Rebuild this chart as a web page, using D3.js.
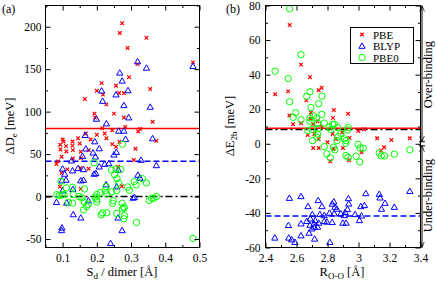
<!DOCTYPE html>
<html><head><meta charset="utf-8">
<script src="https://cdn.jsdelivr.net/npm/d3@7"></script>
<style>
html,body{margin:0;padding:0;background:#fff;}
svg{display:block;font-family:"Liberation Serif",serif;}
svg text{font-family:"Liberation Serif",serif !important;fill:#000;}
</style></head>
<body><svg id="c" width="436" height="283"></svg>
<script>
// ---------- Panel (a) data: S_d / dimer vs ΔD_e ----------
const aPBE_x = [0.274,0.267,0.345,0.29,0.319,0.481,0.294,0.214,0.256,0.2,0.218,0.265,0.279,0.356,0.165,0.228,0.25,0.193,0.195,0.279,0.363,0.216,0.245,0.283,0.327,0.321,0.168,0.223,0.228,0.145,0.182,0.2,0.1,0.103,0.129,0.129,0.11,0.093,0.094,0.15,0.245,0.256,0.266,0.374,0.313,0.111,0.13,0.153,0.176,0.097,0.13,0.154,0.086,0.082,0.308,0.114,0.152,0.176,0.262,0.097,0.092,0.153,0.273];
const aPBE_y = [204,192.6,187,175,156,158,140.6,133.6,130.5,124.6,120,121.9,121.9,126.6,114.8,108.6,97.7,97.7,93,93,88,80.5,78,82,79.7,76.6,74.2,74.2,68.7,68.7,67.2,72.7,67.2,64.8,64.8,60,59.4,61,55.5,62.5,61.7,58.6,64.5,65.6,56.3,53.1,54.7,52.7,54.7,46.9,44.9,45.3,41.4,38.3,43,32,33.6,32.8,35.2,27.7,11.7,9,12.1];
const aBLYP_x = [0.319,0.481,0.345,0.267,0.274,0.214,0.256,0.291,0.217,0.279,0.356,0.199,0.293,0.228,0.264,0.279,0.166,0.284,0.363,0.194,0.168,0.207,0.189,0.257,0.25,0.196,0.158,0.126,0.223,0.235,0.207,0.329,0.374,0.1,0.129,0.145,0.161,0.192,0.197,0.106,0.263,0.098,0.11,0.153,0.161,0.32,0.326,0.227,0.258,0.13,0.1,0.31,0.306,0.082,0.112,0.175,0.131,0.153,0.262,0.098,0.097,0.274,0.24];
const aBLYP_y = [159,153.5,151.5,145.7,136.3,124.6,120,125,112.5,107.4,105.5,91.4,93,86,77.3,77.3,72.3,67.6,68.4,64.8,56.3,56.6,51.6,52.3,49.2,46.9,47.6,42.2,38.3,39,35.2,43,36.7,32.8,30.5,33.2,32,26.6,27.3,26.6,31.2,18.8,19.5,18.8,19.5,25.4,21.9,14,11.7,8.6,7,-0.8,-1.6,-6.6,-7.4,-4.7,-21.1,-25,-25,-36.7,-39.8,-39.8,-55];
const aPBE0_x = [0.275,0.192,0.256,0.243,0.27,0.252,0.259,0.264,0.309,0.315,0.333,0.345,0.29,0.295,0.095,0.111,0.129,0.164,0.227,0.225,0.258,0.083,0.09,0.098,0.104,0.131,0.148,0.156,0.2,0.21,0.229,0.243,0.117,0.129,0.195,0.2,0.163,0.175,0.2,0.248,0.246,0.274,0.279,0.275,0.28,0.17,0.161,0.36,0.366,0.374,0.353,0.217,0.229,0.213,0.258,0.281,0.279,0.316,0.481];
const aPBE0_y = [61.7,39.8,32.4,31.2,32,25.8,21.1,16,17.6,13.7,21.1,16,11.3,7.4,18,10.2,11,9,11.7,7,7,2.3,1.2,2,2.3,2.3,0,-1.6,2.3,4.7,3.1,5.5,-6.6,-7.8,-0.8,-3.1,-6.3,-9,-6.3,-5,-8.2,-7.8,-12.5,-14.8,-13.3,-11.7,-15.6,-2,-2,0,-4.7,-19.1,-19.1,-21.5,-19.9,-22.7,-26.2,-30.5,-49.2];
const aMeanLines = [{v:80, c:"#ff0000", dash:null}, {v:41.5, c:"#0000ff", dash:"6,3"}, {v:0, c:"#000000", dash:"7,3,2,3"}];
const aXTicks = [0.1,0.2,0.3,0.4,0.5], aXMinor = [0.05,0.15,0.25,0.35,0.45];
const aYTicks = [-50,0,50,100,150,200], aYMinor = [-25,25,75,125,175,225];

// ---------- Panel (b) data: R_O-O vs ΔE_2b ----------
const bPBE_x = [2.556,2.629,2.687,2.462,2.546,2.663,2.743,2.762,2.554,2.693,2.841,2.933,2.629,2.578,2.835,2.691,2.708,2.736,2.762,2.672,2.999,3.035,3.12,3.212,3.331,2.715,2.743,2.8,2.708,2.743,2.833,2.854,2.895,2.942,2.838,2.9,2.818,2.94,3.02,3.165,3.145];
const bPBE_y = [68.7,45.8,38.5,28.7,30.3,25.1,31,32.4,16.4,18,19.5,17.4,11.9,11.3,15,14.5,11.4,13,9.9,5.1,7.4,8.4,3.2,2.2,3.2,5.7,2.8,0.9,-2.4,-2.4,5.7,2.8,6.6,3.4,-3,-2.4,-10.1,-9.5,-4.9,-2,-3.9];
const bBLYP_x = [2.554,2.629,3.047,3.331,2.74,2.841,2.83,2.935,2.937,3.134,3.139,3.171,3.231,3.148,3.038,3.015,2.674,2.764,2.848,2.86,2.929,2.914,2.886,2.813,2.751,2.702,2.978,3.019,2.779,2.843,2.908,2.689,2.721,2.666,2.629,2.713,2.743,2.779,2.796,2.83,2.899,2.92,3.006,2.687,2.715,2.7,2.548,2.736,2.681,2.46,2.55,2.569,2.59,2.629,2.717,2.815];
const bBLYP_y = [-31.4,-30.4,-28.7,-27.4,-32.7,-33.5,-34.8,-31.6,-34.7,-29.1,-31.2,-34.3,-36.6,-37.7,-35.6,-36.2,-36.2,-36.2,-36.6,-37.7,-37.9,-39.6,-40.4,-40,-40.8,-40.8,-40.8,-41.6,-41.4,-40.4,-41.4,-43.3,-44.3,-44.8,-46.2,-46.2,-45.8,-44.8,-45.2,-45.4,-45.8,-45.8,-44.3,-47,-48.1,-49.1,-47.1,-48.1,-51.6,-54.4,-54.4,-55.4,-56.9,-53.1,-55,-56.9];
const bPBE0_x = [2.556,2.629,2.462,2.546,2.556,2.687,2.666,2.764,2.743,2.693,2.595,2.578,2.629,2.687,2.71,2.73,2.764,2.687,2.736,2.779,2.833,2.844,2.811,2.865,2.934,2.672,2.7,2.736,2.736,2.822,2.886,2.869,2.929,2.732,2.704,2.861,2.91,2.92,2.779,2.838,2.847,2.918,2.796,2.818,2.997,3.01,3.03,2.918,2.933,2.985,3.008,3.134,3.147,3.168,3.231,3.331];
const bPBE0_y = [78.1,51.6,42,37.8,24.3,30.1,27.4,27.6,23.2,21,18,15.3,13.9,14.9,16.2,14.9,17,13,12,12,11.1,11.4,9.7,9.5,9.5,7.6,8.4,8.6,5.7,8.2,6,4.1,8,3.8,1.8,1.8,2.8,1.8,-1.6,-2,-3.5,0.3,-5.8,-8.1,-0.3,-2.4,-2.6,-6.8,-7.8,-7.2,-10.5,-5.3,-7,-7,-6,-3.5];
const bMeanLines = [{v:8.3, c:"#000000", dash:"7,3,2,3"}, {v:9, c:"#ff0000", dash:null}, {v:-41.8, c:"#0000ff", dash:"6,3"}];
const bXTicks = [2.4,2.6,2.8,3.0,3.2,3.4], bXMinor = [2.5,2.7,2.9,3.1,3.3];
const bYTicks = [-60,-40,-20,0,20,40,60,80], bYMinor = [-50,-30,-10,10,30,50,70];
const legendLabels = ["PBE","BLYP","PBE0"];

const colors = {PBE:"#ff0000", BLYP:"#0000ff", PBE0:"#00ff00"};
const FONT = "'Liberation Serif', serif";
const svg = d3.select("#c");
const fmt = v => String(+v.toFixed(2)).replace("\u2212","-");

function marker(g, type, cx, cy) {
  if (type === "PBE") {
    g.append("path").attr("d", d3.symbol(d3.symbolTimes, 10)())
      .attr("transform", `translate(${cx},${cy})`).attr("fill","none")
      .attr("stroke", colors.PBE).attr("stroke-width", 1.2);
  } else if (type === "BLYP") {
    g.append("path").attr("d", d3.symbol(d3.symbolTriangle, 17)())
      .attr("transform", `translate(${cx},${cy+0.5})`).attr("fill","none")
      .attr("stroke", colors.BLYP).attr("stroke-width", 1);
  } else {
    g.append("circle").attr("cx", cx).attr("cy", cy).attr("r", 3.2)
      .attr("fill","none").attr("stroke", colors.PBE0).attr("stroke-width", 1);
  }
}

function panel(opt) {
  const {x, y} = opt;
  const g = svg.append("g");
  const [x0, x1] = x.range(), [y0, y1] = y.range();
  const clipId = "clip" + opt.id;
  svg.append("clipPath").attr("id", clipId).append("rect")
    .attr("x", x0).attr("y", y1).attr("width", x1 - x0).attr("height", y0 - y1);
  const plot = g.append("g").attr("clip-path", `url(#${clipId})`);
  opt.lines.forEach(l => {
    plot.append("line").attr("x1", x0).attr("x2", x1).attr("y1", y(l.v)).attr("y2", y(l.v))
      .attr("stroke", l.c).attr("stroke-width", 1.5).attr("stroke-dasharray", l.dash);
  });
  opt.series.forEach(s => {
    s.xs.forEach((xv, i) => marker(plot, s.type, x(xv), y(s.ys[i])));
  });
  const tickStyle = sel => {
    sel.attr("font-family", FONT).attr("font-size", 11.5);
    sel.select(".domain").remove();
    sel.selectAll("line").attr("stroke","#000").attr("stroke-width",1);
    sel.selectAll("text").style("font-family", FONT).style("font-size","11.5px")
      .each(function(){ const t=d3.select(this); t.text(t.text().replace("\u2212","-")); });
  };
  g.append("g").attr("transform", `translate(0,${y0})`)
    .call(d3.axisBottom(x).tickValues(opt.xt).tickSize(-5).tickPadding(6).tickFormat(fmt)).call(tickStyle);
  g.append("g").attr("transform", `translate(0,${y0})`)
    .call(d3.axisBottom(x).tickValues(opt.xm).tickSize(-2.5).tickFormat("")).call(tickStyle);
  g.append("g").attr("transform", `translate(0,${y1})`)
    .call(d3.axisTop(x).tickValues(opt.xt).tickSize(-5).tickFormat("")).call(tickStyle);
  g.append("g").attr("transform", `translate(0,${y1})`)
    .call(d3.axisTop(x).tickValues(opt.xm).tickSize(-2.5).tickFormat("")).call(tickStyle);
  g.append("g").attr("transform", `translate(${x0},0)`)
    .call(d3.axisLeft(y).tickValues(opt.yt).tickSize(-5).tickPadding(opt.ypad).tickFormat(fmt)).call(tickStyle);
  g.append("g").attr("transform", `translate(${x0},0)`)
    .call(d3.axisLeft(y).tickValues(opt.ym).tickSize(-2.5).tickFormat("")).call(tickStyle);
  g.append("g").attr("transform", `translate(${x1},0)`)
    .call(d3.axisRight(y).tickValues(opt.yt).tickSize(-5).tickFormat("")).call(tickStyle);
  g.append("g").attr("transform", `translate(${x1},0)`)
    .call(d3.axisRight(y).tickValues(opt.ym).tickSize(-2.5).tickFormat("")).call(tickStyle);
  g.append("rect").attr("x", x0).attr("y", y1).attr("width", x1 - x0).attr("height", y0 - y1)
    .attr("fill","none").attr("stroke","#000").attr("stroke-width",1);
  return g;
}

const xA = d3.scaleLinear().domain([0.05, 0.5]).range([45.5, 199.5]);
const yA = d3.scaleLinear().domain([-60, 225]).range([247.5, 5.5]);
const xB = d3.scaleLinear().domain([2.4, 3.4]).range([265.5, 420.5]);
const yB = d3.scaleLinear().domain([-60, 80]).range([247.5, 5.5]);

panel({id:"a", x:xA, y:yA, xt:aXTicks, xm:aXMinor, yt:aYTicks, ym:aYMinor, ypad:4,
  lines:aMeanLines,
  series:[{type:"PBE", xs:aPBE_x, ys:aPBE_y},{type:"BLYP", xs:aBLYP_x, ys:aBLYP_y},{type:"PBE0", xs:aPBE0_x, ys:aPBE0_y}]});
panel({id:"b", x:xB, y:yB, xt:bXTicks, xm:bXMinor, yt:bYTicks, ym:bYMinor, ypad:5,
  lines:bMeanLines,
  series:[{type:"PBE", xs:bPBE_x, ys:bPBE_y},{type:"BLYP", xs:bBLYP_x, ys:bBLYP_y},{type:"PBE0", xs:bPBE0_x, ys:bPBE0_y}]});

function txt(sel){ return sel.style("font-family", FONT); }
txt(svg.append("text")).attr("x", 2).attr("y", 13).style("font-size","12px").text("(a)");
txt(svg.append("text")).attr("x", 226).attr("y", 13).style("font-size","12px").text("(b)");

function title(tr, main, sub, rest) {
  const t = txt(svg.append("text")).attr("transform", tr).attr("text-anchor","middle").style("font-size","12.5px");
  t.append("tspan").text(main);
  t.append("tspan").attr("dy", 3).style("font-size","9px").text(sub);
  t.append("tspan").attr("dy", -3).text(rest);
}
title("translate(122,276)", "S", "d", " / dimer [Å]");
title("translate(342,276)", "R", "O-O", " [Å]");
title("translate(14,126) rotate(-90)", "ΔD", "e", " [meV]");
title("translate(234,126) rotate(-90)", "ΔE", "2b", " [meV]");

// legend in (b)
const lg = svg.append("g");
lg.append("rect").attr("x", 350.5).attr("y", 27.5).attr("width", 63).attr("height", 36)
  .attr("fill","#fff").attr("stroke","#000").attr("stroke-width",1);
legendLabels.forEach((k, i) => {
  const yy = 34.5 + i * 11.5;
  marker(lg, k, 362, yy);
  txt(lg.append("text")).attr("x", 373).attr("y", yy + 4).style("font-size","11px").text(k);
});

// over/under-binding arrows
const defs = svg.append("defs");
defs.append("marker").attr("id","ah").attr("viewBox","0 0 10 10").attr("refX",10).attr("refY",5)
  .attr("markerWidth",6).attr("markerHeight",6).attr("orient","auto-start-reverse").attr("markerUnits","userSpaceOnUse")
  .append("path").attr("d","M0,1 L10,5 L0,9").attr("fill","none").attr("stroke","#000").attr("stroke-width",1.2);
const ax = 422;
const zeroY = yB(0);
svg.append("line").attr("x1", ax).attr("x2", ax).attr("y1", yB(80)).attr("y2", zeroY - 2)
  .attr("stroke","#000").attr("stroke-width",1).attr("marker-start","url(#ah)").attr("marker-end","url(#ah)");
svg.append("line").attr("x1", ax).attr("x2", ax).attr("y1", zeroY + 2).attr("y2", yB(-60))
  .attr("stroke","#000").attr("stroke-width",1).attr("marker-start","url(#ah)").attr("marker-end","url(#ah)");
svg.append("line").attr("x1", ax-3).attr("x2", ax+3).attr("y1", zeroY - 2).attr("y2", zeroY - 2).attr("stroke","#000");
svg.append("line").attr("x1", ax-3).attr("x2", ax+3).attr("y1", zeroY + 2).attr("y2", zeroY + 2).attr("stroke","#000");
txt(svg.append("text")).attr("transform", `translate(432,${(yB(80)+zeroY)/2}) rotate(-90)`).attr("text-anchor","middle")
  .style("font-size","12.5px").text("Over-binding");
txt(svg.append("text")).attr("transform", `translate(432,${(zeroY+yB(-60))/2}) rotate(-90)`).attr("text-anchor","middle")
  .style("font-size","12.5px").text("Under-binding");
</script></body></html>
